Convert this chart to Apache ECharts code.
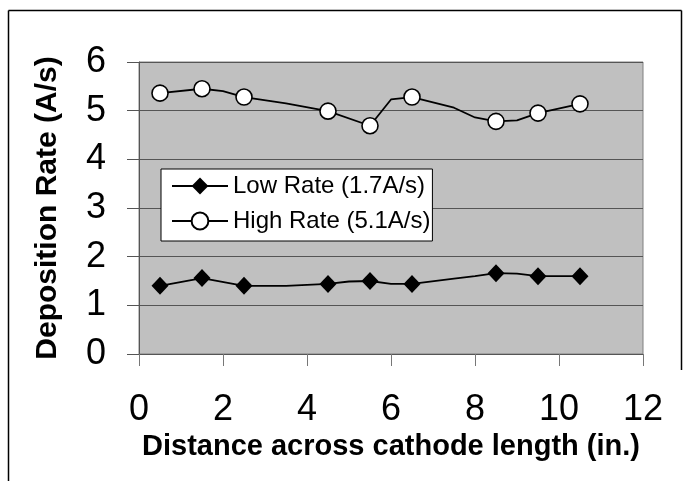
<!DOCTYPE html>
<html>
<head>
<meta charset="utf-8">
<script src="https://cdn.jsdelivr.net/npm/echarts@6/dist/echarts.min.js"></script>
<style>html,body{margin:0;padding:0;background:#fff;}#c{width:689px;height:481px;}</style>
</head>
<body>
<div id="c"></div>
<script>
// Data
const seriesNames = ['Low Rate (1.7A/s)', 'High Rate (5.1A/s)'];
const lowX = [0.5, 1.5, 2.5, 3.5, 4.5, 5.0, 5.5, 6.0, 6.5, 7.5, 8.0, 8.5, 9.0, 9.5, 10.5];
const lowY = [1.40, 1.56, 1.40, 1.40, 1.44, 1.49, 1.50, 1.44, 1.44, 1.55, 1.60, 1.66, 1.65, 1.60, 1.60];
const lowMarked = [1, 1, 1, 0, 1, 0, 1, 0, 1, 0, 0, 1, 0, 1, 1];
const highX = [0.5, 1.5, 2.0, 2.5, 3.5, 4.5, 5.5, 6.0, 6.5, 7.5, 8.0, 8.5, 9.0, 9.5, 10.5];
const highY = [5.36, 5.45, 5.40, 5.28, 5.15, 4.99, 4.69, 5.23, 5.28, 5.06, 4.86, 4.78, 4.80, 4.95, 5.14];
const highMarked = [1, 1, 0, 1, 0, 1, 1, 0, 1, 0, 0, 1, 0, 1, 1];
const xTicks = [0, 2, 4, 6, 8, 10, 12];
const yTicks = [0, 1, 2, 3, 4, 5, 6];
const xTitle = 'Distance across cathode length (in.)';
const yTitle = 'Deposition Rate (A/s)';

const FONT = '"Liberation Sans", Arial, sans-serif';

function build(xs, ys, marked) {
  return xs.map((x, i) => marked[i] ? [x, ys[i]] : { value: [x, ys[i]], symbol: 'none' });
}

const chart = echarts.init(document.getElementById('c'), null, { renderer: 'canvas' });
chart.setOption({
  animation: false,
  backgroundColor: '#fff',
  textStyle: { fontFamily: FONT },
  grid: {
    left: 139, right: 46, top: 62, bottom: 127,
    show: true, backgroundColor: '#c0c0c0', borderColor: '#808080', borderWidth: 1
  },
  legend: {
    orient: 'vertical',
    left: 161, top: 169,
    backgroundColor: '#fff',
    borderColor: '#000', borderWidth: 1,
    padding: [5, 2, 8, 10],
    itemGap: 11,
    itemWidth: 56, itemHeight: 21,
    textStyle: { fontFamily: FONT, fontSize: 24, color: '#000', lineHeight: 24 },
    data: seriesNames
  },
  xAxis: {
    type: 'value', min: xTicks[0], max: xTicks[xTicks.length - 1], interval: 2,
    name: xTitle, nameLocation: 'middle', nameGap: 78,
    nameTextStyle: { fontFamily: FONT, fontSize: 29, fontWeight: 'bold', color: '#000' },
    axisLine: { show: true, lineStyle: { color: '#555', width: 1 } },
    axisTick: { show: true, inside: false, length: 12, lineStyle: { color: '#777' } },
    axisLabel: { fontFamily: FONT, fontSize: 36, color: '#000', margin: 38 },
    splitLine: { show: false }
  },
  yAxis: {
    type: 'value', min: yTicks[0], max: yTicks[yTicks.length - 1], interval: 1,
    name: yTitle, nameLocation: 'middle', nameGap: 76, nameRotate: 90,
    nameTextStyle: { fontFamily: FONT, fontSize: 30, fontWeight: 'bold', color: '#000' },
    axisLine: { show: true, lineStyle: { color: '#555', width: 1 } },
    axisTick: { show: true, inside: false, length: 12, lineStyle: { color: '#555' } },
    axisLabel: { fontFamily: FONT, fontSize: 36, color: '#000', margin: 33 },
    splitLine: { show: true, lineStyle: { color: '#555', width: 1 } }
  },
  series: [
    {
      name: seriesNames[0], type: 'line',
      data: build(lowX, lowY, lowMarked),
      symbol: 'diamond', symbolSize: [17, 18], showAllSymbol: true,
      lineStyle: { color: '#000', width: 1.8 },
      itemStyle: { color: '#000', borderColor: '#000', borderWidth: 0 },
      z: 3
    },
    {
      name: seriesNames[1], type: 'line',
      data: build(highX, highY, highMarked),
      symbol: 'circle', symbolSize: 16, showAllSymbol: true,
      lineStyle: { color: '#000', width: 1.8 },
      itemStyle: { color: '#fff', borderColor: '#000', borderWidth: 1.6 },
      z: 3
    }
  ],
  graphic: [
    { type: 'line', shape: { x1: 8.5, y1: 10.5, x2: 681.5, y2: 10.5 }, style: { stroke: '#000', lineWidth: 1.5 }, silent: true },
    { type: 'line', shape: { x1: 8.5, y1: 10.5, x2: 8.5, y2: 481 }, style: { stroke: '#000', lineWidth: 1.5 }, silent: true },
    { type: 'line', shape: { x1: 681.5, y1: 10.5, x2: 681.5, y2: 370 }, style: { stroke: '#000', lineWidth: 1.5 }, silent: true }
  ]
});
</script>
</body>
</html>
